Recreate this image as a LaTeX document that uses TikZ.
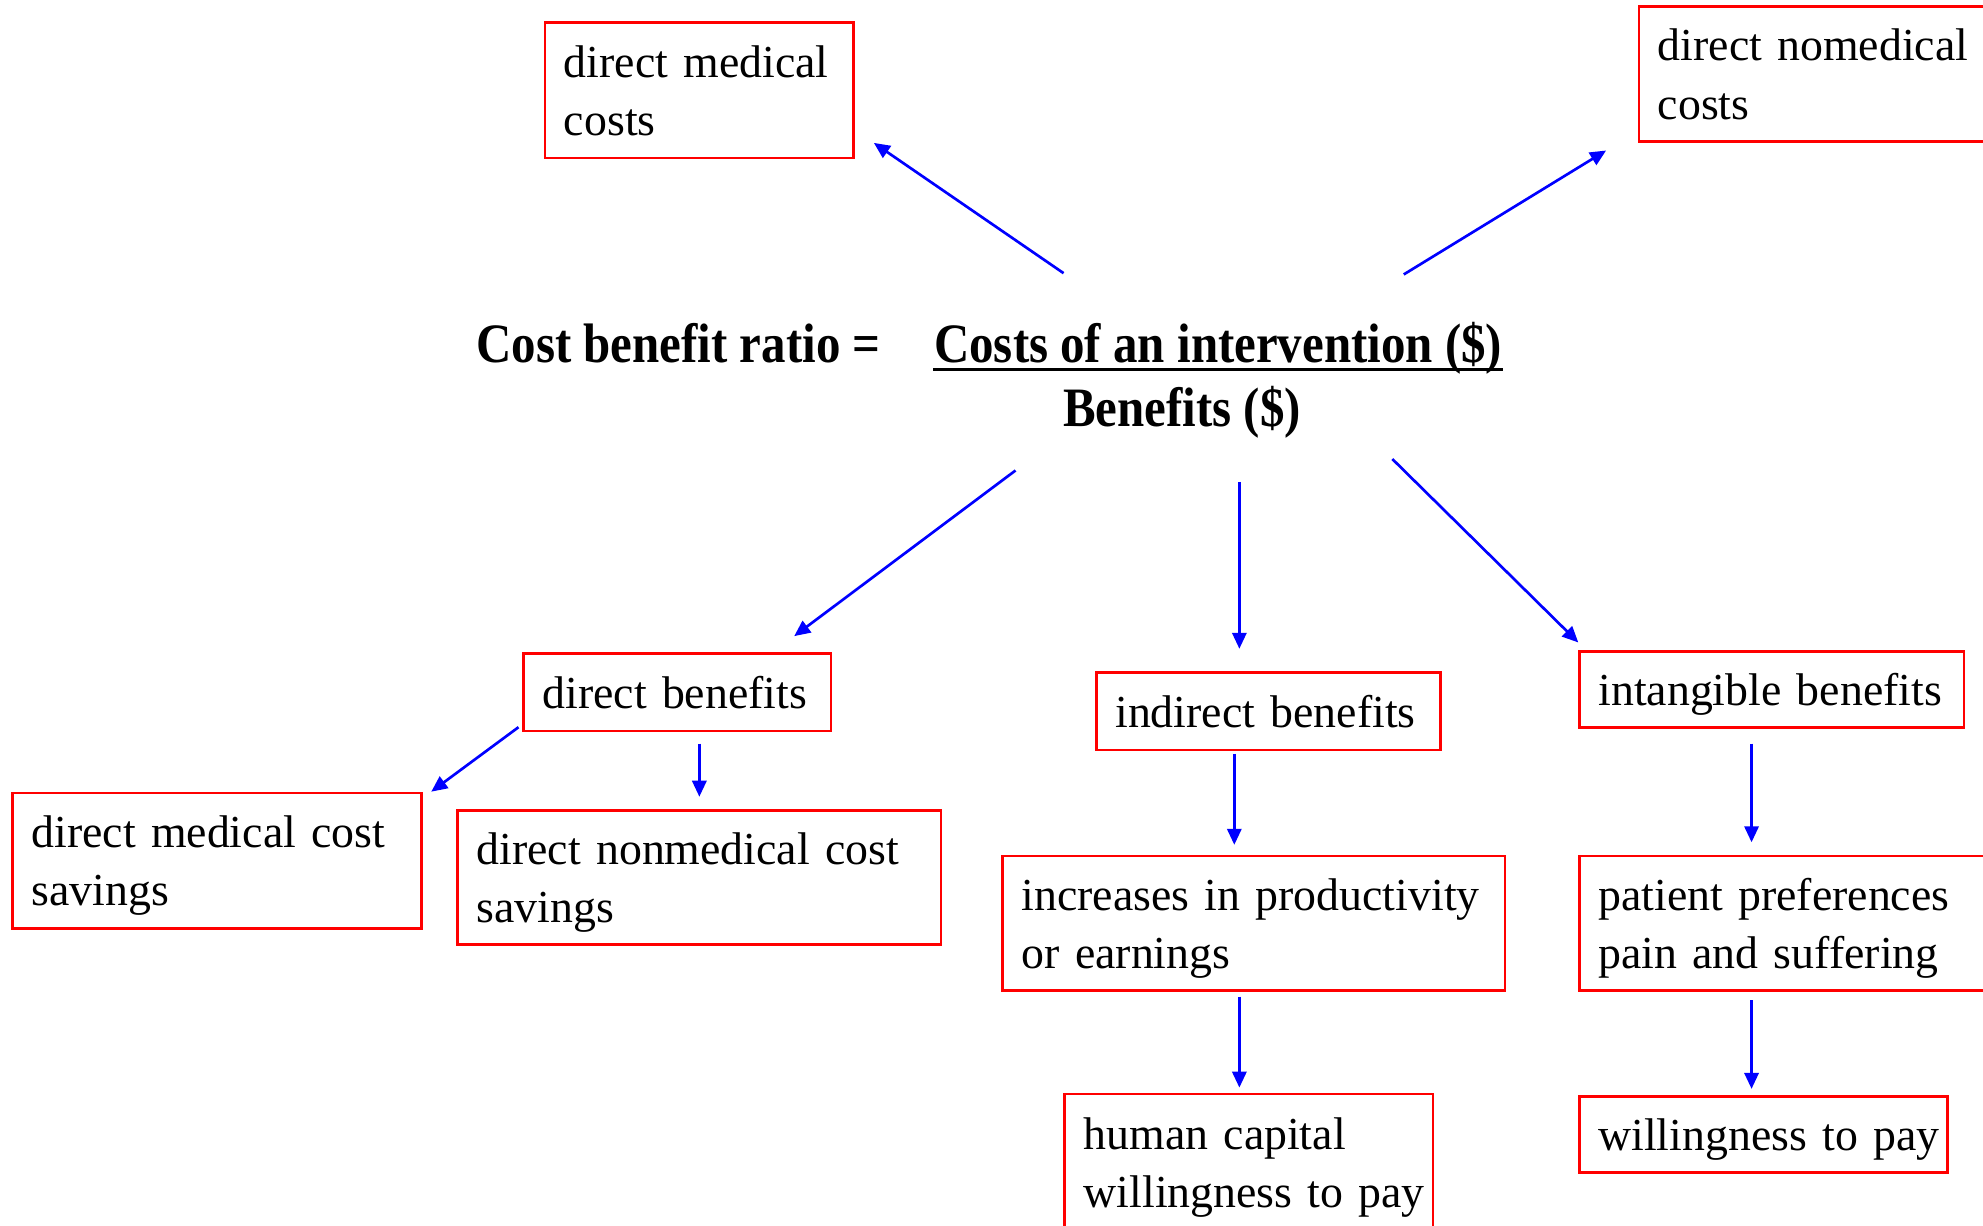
\documentclass[tikz,border=0pt]{standalone}
\usepackage{fontspec}
\setmainfont{Liberation Serif}
\newfontfamily\formulafont[FakeStretch=0.88]{Liberation Serif}
\usetikzlibrary{arrows.meta}
\hyphenpenalty=10000
\exhyphenpenalty=10000
\hbadness=10000
\hfuzz=50pt
\newcommand{\boxline}[1]{\mbox{\rule[-2.95pt]{0pt}{13.1pt}#1}}
\definecolor{boxred}{RGB}{255,0,0}
\definecolor{arrowblue}{RGB}{0,0,255}
\tikzset{
  box/.style={draw=boxred, line width=0.6pt, inner xsep=0.15cm, inner ysep=0pt,
    align=left, font=\fontsize{10.3}{13.1}\selectfont},
  formula/.style={inner sep=0pt, anchor=base west,
    font=\formulafont\bfseries\fontsize{12.5}{15}\selectfont},
  conn/.style={draw=arrowblue, line width=0.6pt,
    -{Triangle[length=3.6pt,width=3.2pt]}}
}
\begin{document}
\begin{tikzpicture}[x=0.01cm, y=-0.01cm]
\useasboundingbox (0,0) rectangle (1568,969);

% boxes
\node[box, text width=2.14cm, minimum height=1.07cm] (dmc) at (553,71.5)
  {\boxline{direct medical}\\\boxline{costs}};
\node[box, text width=2.64cm, minimum height=1.07cm] (dnc) at (1443,58.5)
  {\boxline{direct nomedical}\\\boxline{costs}};
\node[box, text width=2.13cm, minimum height=0.61cm] (db) at (535.5,547.5)
  {\boxline{direct benefits}};
\node[box, text width=2.42cm, minimum height=0.61cm] (ib) at (1003,562.5)
  {\boxline{indirect benefits}};
\node[box, text width=2.74cm, minimum height=0.60cm] (tb) at (1401,545)
  {\boxline{intangible benefits}};
\node[box, text width=2.93cm, minimum height=1.07cm] (dmcs) at (171.5,680.5)
  {\boxline{direct medical cost}\\\boxline{savings}};
\node[box, text width=3.52cm, minimum height=1.06cm] (dncs) at (553,694)
  {\boxline{direct nonmedical cost}\\\boxline{savings}};
\node[box, text width=3.67cm, minimum height=1.06cm] (inc) at (991.5,730)
  {\boxline{increases in productivity}\\\boxline{or earnings}};
\node[box, text width=3.21cm, minimum height=1.06cm] (pp) at (1424.5,730)
  {\boxline{patient preferences}\\\boxline{pain and suffering}};
\node[box, text width=2.61cm, minimum height=1.08cm] (hc) at (987.5,919)
  {\boxline{human capital}\\\boxline{willingness to pay}};
\node[box, text width=2.61cm, minimum height=0.60cm] (wtp) at (1394.5,897)
  {\boxline{willingness to pay}};

% formula
\node[formula] (lhs) at (376,287) {Cost benefit ratio =};
\node[formula] (num) at (738,287) {Costs of an intervention (\$)};
\node[formula] (den) at (840,337) {Benefits (\$)};
\draw[line width=0.7pt] ([yshift=-0.05cm]num.base west) -- ([yshift=-0.05cm]num.base east);

% connector end points
\coordinate (s1) at (841,216);  \coordinate (e1) at (691,113);
\coordinate (s2) at (1110,217); \coordinate (e2) at (1270,119);
\coordinate (s3) at (803,372);  \coordinate (e3) at (628,503);
\coordinate (s4) at (980,381);  \coordinate (e4) at (980,513);
\coordinate (s5) at (1101,363); \coordinate (e5) at (1248,508);
\coordinate (s6) at (410,575);  \coordinate (e6) at (341,626);
\coordinate (s7) at (553,588);  \coordinate (e7) at (553,630);
\coordinate (s8) at (976,596);  \coordinate (e8) at (976,668);
\coordinate (s9) at (1385,588); \coordinate (e9) at (1385,666);
\coordinate (s10) at (980,788); \coordinate (e10) at (980,860);
\coordinate (s11) at (1385,791); \coordinate (e11) at (1385,861);

\foreach \i in {1,...,11} { \draw[conn] (s\i) -- (e\i); }
\end{tikzpicture}
\end{document}
